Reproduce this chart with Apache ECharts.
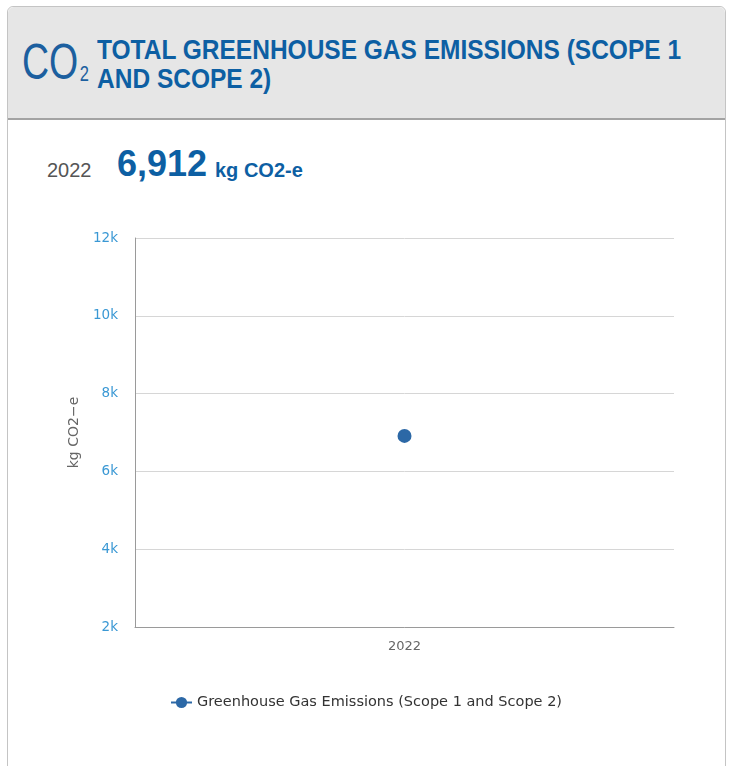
<!DOCTYPE html>
<html>
<head>
<meta charset="utf-8">
<script src="https://cdn.jsdelivr.net/npm/echarts@6/dist/echarts.min.js"></script>
<style>
  html, body { margin: 0; padding: 0; background: #fff; width: 732px; height: 766px; overflow: hidden; }
  #card { position: absolute; left: 7px; top: 6px; width: 717px; height: 780px; border: 1px solid #c4c4c4; border-radius: 6px 6px 0 0; background: #fff; }
  #head { position: absolute; left: 0; top: 0; width: 717px; height: 111px; background: #e6e6e6; border-bottom: 2px solid #a3a3a3; border-radius: 6px 6px 0 0; }
  #co2 { position: absolute; left: 14px; top: 27px; font-family: "Liberation Sans", Arial, sans-serif; font-size: 50px; line-height: 56px; color: #1c5f9f; transform: scaleX(0.75); transform-origin: left top; white-space: nowrap; }
  #co2 sub { font-size: 22px; vertical-align: baseline; position: relative; top: 2px; margin-left: 2px; }
  #title { position: absolute; left: 89px; top: 28px; font-family: "Liberation Sans", Arial, sans-serif; font-weight: bold; font-size: 28px; line-height: 29px; color: #0d5fa3; transform: scaleX(0.875); transform-origin: left top; white-space: nowrap; }
  #year { position: absolute; left: 47px; top: 159px; font-family: "Liberation Sans", Arial, sans-serif; font-size: 20px; color: #555; }
  #val { position: absolute; left: 117px; top: 143px; font-family: "Liberation Sans", Arial, sans-serif; font-weight: bold; font-size: 36px; color: #0d5fa3; }
  #unit { position: absolute; left: 215px; top: 159px; font-family: "Liberation Sans", Arial, sans-serif; font-weight: bold; font-size: 20px; color: #0d5fa3; }
  #chart { position: absolute; left: 0; top: 0; width: 732px; height: 766px; }
</style>
</head>
<body>
<div id="card">
  <div id="head">
    <div id="co2">CO<sub>2</sub></div>
    <div id="title">TOTAL GREENHOUSE GAS EMISSIONS (SCOPE 1<br>AND SCOPE 2)</div>
  </div>
</div>
<div id="year">2022</div>
<div id="val">6,912</div>
<div id="unit">kg CO2-e</div>
<div id="chart"></div>
<script>
const categories = ['2022'];
const seriesName = 'Greenhouse Gas Emissions (Scope 1 and Scope 2)';
const values = [6912];
const yTicks = { min: 2000, max: 12000, interval: 2000 };
const yAxisName = 'kg CO2\u2212e';

const chart = echarts.init(document.getElementById('chart'), null, { renderer: 'canvas' });
chart.setOption({
  backgroundColor: 'transparent',
  animation: false,
  grid: { left: 135, right: 58, top: 238, bottom: 139, containLabel: false },
  legend: {
    top: 690,
    left: 'center',
    itemWidth: 21,
    itemHeight: 14,
    itemGap: 10,
    textStyle: { color: '#333', fontSize: 14.5, fontFamily: 'DejaVu Sans' },
    data: [seriesName]
  },
  xAxis: {
    type: 'category',
    data: categories,
    boundaryGap: true,
    axisLine: { show: true, lineStyle: { color: '#9a9a9a', width: 1 } },
    axisTick: { show: false },
    axisLabel: { color: '#666', fontSize: 13, fontFamily: 'DejaVu Sans', margin: 13 },
    splitLine: { show: false }
  },
  yAxis: {
    type: 'value',
    min: yTicks.min,
    max: yTicks.max,
    interval: yTicks.interval,
    name: yAxisName,
    nameLocation: 'middle',
    nameGap: 54,
    nameRotate: 90,
    nameTextStyle: { color: '#666', fontSize: 14, fontFamily: 'DejaVu Sans' },
    axisLine: { show: true, lineStyle: { color: '#9a9a9a', width: 1 } },
    axisTick: { show: false },
    axisLabel: {
      color: '#3a98d4', fontSize: 13.5, fontFamily: 'DejaVu Sans', margin: 17,
      padding: [5, 0, 0, 0],
      formatter: v => (v / 1000) + 'k'
    },
    splitLine: { show: true, lineStyle: { color: '#d6d6d6', width: 1 } }
  },
  series: [{
    name: seriesName,
    type: 'line',
    data: values,
    symbol: 'circle',
    symbolSize: 14,
    itemStyle: { color: '#2c68a6' },
    lineStyle: { color: '#2c68a6', width: 3 }
  }]
});
</script>
</body>
</html>
